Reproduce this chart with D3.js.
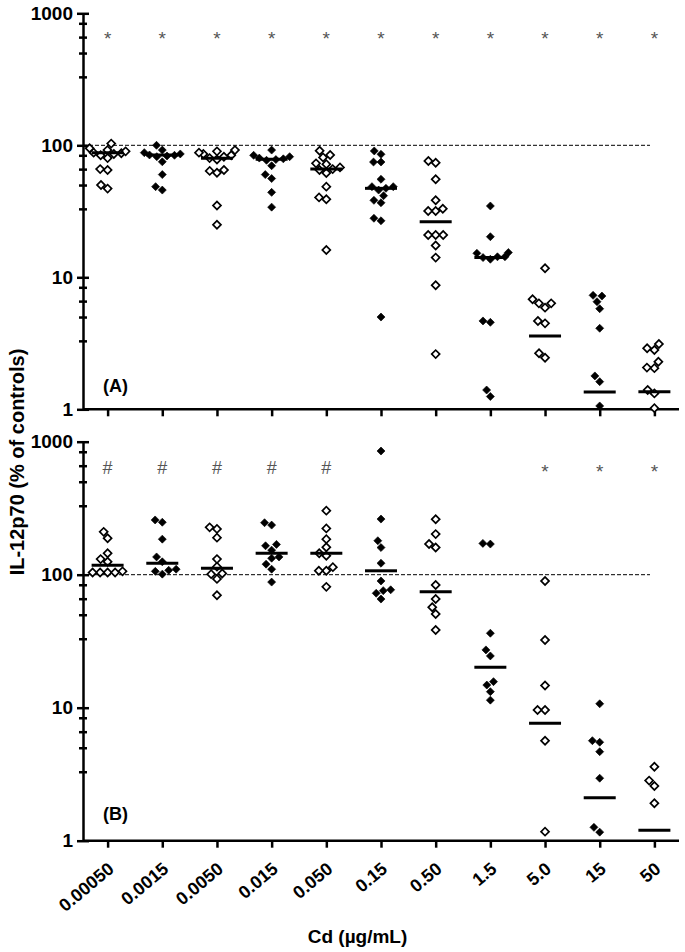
<!DOCTYPE html>
<html>
<head>
<meta charset="utf-8">
<script src="https://cdn.jsdelivr.net/npm/d3@7/dist/d3.min.js"></script>
<style>
  html, body { margin: 0; padding: 0; background: #fff; }
  svg { display: block; font-family: "Liberation Sans", Arial, sans-serif; }
</style>
</head>
<body>
<svg id="chart" width="685" height="952"></svg>
<script>
// ---------------- DATA ----------------
const categories = ["0.00050", "0.0015", "0.0050", "0.015", "0.050", "0.15", "0.50", "1.5", "5.0", "15", "50"];
const filledMarker = [false, true, false, true, false, true, false, true, false, true, false];

const valuesA = [
  [103, 95, 92, 90, 88, 87, 86, 84, 80, 66, 65, 50, 47],
  [100, 92, 88, 86, 84.5, 84, 83, 82, 75, 60, 48.6, 45.8],
  [92, 90, 88, 86, 84, 82, 80, 78, 65, 64, 62, 35, 25],
  [92, 84, 82, 80, 79, 78, 77, 70, 60, 56, 44, 34],
  [91, 84.5, 81, 73, 72, 68, 66, 65, 61.6, 48.6, 40.3, 39, 16.1],
  [90.6, 85.5, 74.7, 74.7, 55.3, 48.6, 47.2, 48.6, 45.8, 41.5, 38.3, 36.7, 28, 26.8, 5.0],
  [76, 73.8, 55.3, 38.3, 33.1, 31.8, 31.8, 20.9, 20.9, 20.9, 17.4, 14.1, 8.7, 2.62],
  [34.7, 20.3, 15.4, 15.2, 14.3, 14.3, 14.1, 13.7, 4.67, 4.56, 1.40, 1.25],
  [11.7, 6.81, 6.35, 6.35, 5.89, 4.67, 4.48, 2.66, 2.46],
  [7.3, 7.21, 6.53, 5.78, 4.11, 1.79, 1.62, 1.06],
  [3.12, 2.90, 2.81, 2.29, 2.07, 2.05, 1.40, 1.32, 1.02]
];
const mediansA = [87.9, 84.5, 79.8, 78.3, 66.1, 47.2, 26.4, 14.1, 3.59, 1.35, 1.36];
const marksA = ["*", "*", "*", "*", "*", "*", "*", "*", "*", "*", "*"];

const valuesB = [
  [210, 188, 145, 131, 125, 106, 104, 104, 104, 104],
  [258, 248, 185, 136, 125, 110, 108, 106, 101],
  [227, 221, 190, 131, 115, 102, 101, 93, 70],
  [246, 236, 169, 165, 153, 136, 133, 120, 110, 88],
  [303, 223, 185, 161, 145, 139, 114, 107, 107, 81],
  [851, 262, 180, 160, 122, 89.7, 77, 75.9, 72.5, 65.6],
  [261, 202, 170, 160, 83.7, 65.6, 56.9, 50.7, 38.4],
  [172, 170, 36.3, 27.2, 24.5, 15.7, 14.8, 13.2, 11.4],
  [89.7, 32.3, 14.7, 9.6, 9.6, 5.65, 1.17],
  [10.7, 5.65, 5.5, 4.67, 2.95, 1.26, 1.16],
  [3.6, 2.83, 2.58, 1.91]
];
const mediansB = [118, 122, 112, 145, 145, 107, 74.5, 20.1, 7.63, 2.1, 1.2];
const marksB = ["#", "#", "#", "#", "#", "", "", "", "*", "*", "*"];

const yMajorTicks = [1, 10, 100, 1000];
const yMinorFractions = [0.84, 0.66, 0.5, 0.33];
const controlLevel = 100;
const panelLabels = ["(A)", "(B)"];
const xTitle = "Cd (\u00b5g/mL)";
const yTitle = "IL-12p70 (% of controls)";

// ---------------- LAYOUT ----------------
const svg = d3.select("#chart");
const axisX0 = 83, axisX1 = 679;
const panels = [
  { top: 13.3, bottom: 409.3, values: valuesA, medians: mediansA, marks: marksA, markLevel: 685, label: panelLabels[0], labels: false },
  { top: 441.7, bottom: 840.7, values: valuesB, medians: mediansB, marks: marksB, markLevel: 635, label: panelLabels[1], labels: true }
];

const x = d3.scalePoint().domain(categories).range([axisX0, axisX1]).padding(0.45);

const minorTicks = [];
[1, 10, 100].forEach(d => yMinorFractions.forEach(f => minorTicks.push(d * 10 * f)));

function swarm(vals, y, D, maxOff) {
  const pts = vals.map(v => ({ v, y: y(v), dx: 0 })).sort((a, b) => b.y - a.y);
  const placed = [];
  pts.forEach(p => {
    const iv = placed.filter(q => Math.abs(q.y - p.y) < D).map(q => {
      const h = Math.sqrt(D * D - (q.y - p.y) ** 2);
      return [q.dx - h, q.dx + h];
    });
    const cands = [0];
    iv.forEach(([a, b]) => { cands.push(a, b); });
    const ok = cands.filter(c => iv.every(([a, b]) => c <= a + 1e-6 || c >= b - 1e-6));
    ok.sort((a, b) => (Math.abs(a) - Math.abs(b)) || (a - b));
    let dx = ok[0];
    dx = Math.max(-maxOff, Math.min(maxOff, dx));
    p.dx = dx;
    placed.push(p);
  });
  return pts;
}

const diamond = d3.symbol().type(d3.symbolSquare).size(32);

panels.forEach((P, pi) => {
  const y = d3.scaleLog().domain([1, 1000]).range([P.bottom, P.top]);
  const g = svg.append("g");

  // control reference line
  g.append("line")
    .attr("x1", axisX0).attr("x2", 650)
    .attr("y1", y(controlLevel)).attr("y2", y(controlLevel))
    .attr("stroke", "#000").attr("stroke-width", 1).attr("stroke-dasharray", "4,2");

  // Y axis major
  const yAxis = g.append("g").attr("transform", `translate(${axisX0},0)`)
    .call(d3.axisLeft(y).tickValues(yMajorTicks).tickFormat(d3.format("d")).tickSizeInner(6).tickSizeOuter(0).tickPadding(4));
  yAxis.select(".domain").attr("stroke-width", 2.5);
  yAxis.selectAll(".tick line").attr("x1", 6).attr("x2", -6).attr("stroke-width", 2.5);
  yAxis.selectAll(".tick text")
    .attr("font-size", 19).attr("font-weight", "bold").attr("fill", "#000")
    .attr("font-family", "Liberation Sans, Arial, sans-serif");

  // Y axis minor
  const yMinor = g.append("g").attr("transform", `translate(${axisX0},0)`)
    .call(d3.axisLeft(y).tickValues(minorTicks).tickFormat("").tickSizeOuter(0));
  yMinor.select(".domain").remove();
  yMinor.selectAll(".tick line").attr("x1", 4).attr("x2", -4).attr("stroke-width", 2.5);

  // X axis
  const xAxis = g.append("g").attr("transform", `translate(0,${P.bottom})`)
    .call(d3.axisBottom(x).tickSizeInner(7).tickSizeOuter(0).tickFormat(P.labels ? (d => d) : ""));
  xAxis.select(".domain").attr("d", `M${axisX0},0H${axisX1}`).attr("stroke-width", 2.5);
  xAxis.selectAll(".tick line").attr("stroke-width", 2.5);
  if (P.labels) {
    xAxis.selectAll(".tick text")
      .attr("font-size", 18).attr("font-weight", "bold").attr("fill", "#000")
      .attr("font-family", "Liberation Sans, Arial, sans-serif")
      .attr("text-anchor", "end")
      .attr("dy", null)
      .attr("y", 0)
      .attr("transform", "translate(7,30) rotate(-40)");
  }

  // points
  categories.forEach((c, i) => {
    const pts = swarm(P.values[i], y, 7.5, 18);
    const cx = x(c);
    g.append("g").selectAll("path").data(pts).join("path")
      .attr("d", diamond)
      .attr("transform", d => `translate(${cx + d.dx},${d.y}) rotate(45)`)
      .attr("fill", filledMarker[i] ? "#000" : "#fff")
      .attr("stroke", "#000")
      .attr("stroke-width", filledMarker[i] ? 0.6 : 1.7);

    // median line
    g.append("line")
      .attr("x1", cx - 16).attr("x2", cx + 16)
      .attr("y1", y(P.medians[i])).attr("y2", y(P.medians[i]))
      .attr("stroke", "#000").attr("stroke-width", 3);

    // significance mark
    if (P.marks[i]) {
      const m = P.marks[i];
      g.append("text")
        .attr("x", cx).attr("y", y(P.markLevel))
        .attr("dy", m === "*" ? "0.55em" : "0.36em")
        .attr("text-anchor", "middle")
        .attr("font-size", m === "*" ? 19 : 18)
        .attr("fill", "#555")
        .text(m);
    }
  });

  // panel label
  g.append("text")
    .attr("x", 103).attr("y", P.bottom - (pi === 0 ? 17 : 21))
    .attr("font-size", 18).attr("font-weight", "bold").attr("fill", "#000")
    .text(P.label);
});

// axis titles
svg.append("text")
  .attr("transform", "translate(24,462) rotate(-90)")
  .attr("text-anchor", "middle")
  .attr("font-size", 20).attr("font-weight", "bold")
  .text(yTitle);

svg.append("text")
  .attr("x", 357.5).attr("y", 943)
  .attr("text-anchor", "middle")
  .attr("font-size", 19).attr("font-weight", "bold")
  .text(xTitle);
</script>
</body>
</html>
